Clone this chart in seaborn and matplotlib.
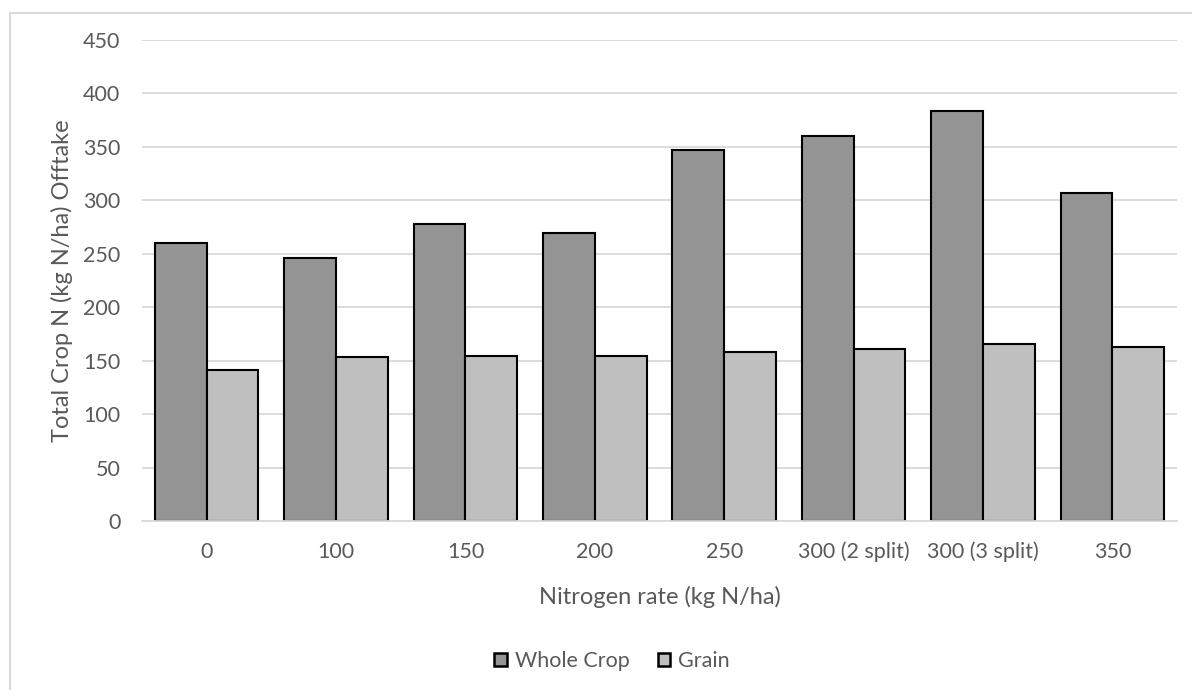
import matplotlib
matplotlib.use("Agg")
import matplotlib.pyplot as plt
import seaborn as sns
import pandas as pd
from matplotlib.patches import Patch
from matplotlib.lines import Line2D

categories = ["0", "100", "150", "200", "250", "300 (2 split)", "300 (3 split)", "350"]
whole_crop = [260, 246, 278, 269, 347, 360, 384, 307]
grain = [141, 153, 154, 154, 158, 161, 166, 163]
series_names = ["Whole Crop", "Grain"]
series_colors = ["#949494", "#bfbfbf"]
y_ticks = [0, 50, 100, 150, 200, 250, 300, 350, 400, 450]

df = pd.DataFrame({
    "rate": categories * 2,
    "value": whole_crop + grain,
    "series": [series_names[0]] * len(categories) + [series_names[1]] * len(categories),
})

sns.set_theme(style="white")
plt.rcParams['font.family'] = ['Lato', 'DejaVu Sans']
text_color = "#595959"
grid_color = "#d9d9d9"

W, H = 1192, 690
fig = plt.figure(figsize=(W / 100, H / 100), dpi=100)
ax_left, ax_right, ax_top, ax_bottom = 142, 1177, 40, 521
ax = fig.add_axes([ax_left / W, 1 - ax_bottom / H, (ax_right - ax_left) / W, (ax_bottom - ax_top) / H])

sns.barplot(data=df, x="rate", y="value", hue="series", order=categories,
            hue_order=series_names, palette=series_colors, width=0.8,
            edgecolor="black", linewidth=1.5, saturation=1, ax=ax, legend=False)

ax.set_ylim(0, 450)
ax.set_xlim(-0.5, len(categories) - 0.5)
ax.set_yticks(y_ticks)
ax.set_yticklabels([str(t) for t in y_ticks])
ax.yaxis.grid(True, color=grid_color, linewidth=1.3)
ax.set_axisbelow(True)
for s in ["top", "right", "left"]:
    ax.spines[s].set_visible(False)
ax.spines["bottom"].set_color(grid_color)
ax.spines["bottom"].set_linewidth(1.3)
ax.tick_params(axis="both", length=0, labelsize=15.5, colors=text_color)
ax.tick_params(axis="y", pad=15.5)
ax.tick_params(axis="x", pad=15)
ax.set_xlabel("Nitrogen rate (kg N/ha)", fontsize=17, color=text_color, va="center")
ax.set_ylabel("Total Crop N (kg N/ha) Offtake", fontsize=17, color=text_color, va="center")
ax.xaxis.set_label_coords(0.5, (ax_bottom - 597) / (ax_bottom - ax_top))
ax.yaxis.set_label_coords((62 - ax_left) / (ax_right - ax_left), 0.5)

handles = [Patch(facecolor=c, edgecolor="black", linewidth=1.8) for c in series_colors]
fig.legend(handles, series_names, loc="center", bbox_to_anchor=(612 / W, 1 - 661 / H),
           ncol=2, frameon=False, fontsize=15.5, labelcolor=text_color,
           handlelength=0.6, handleheight=0.6, handletextpad=0.35, columnspacing=1.3)

# chart-area border (top and left visible)
fig.add_artist(Line2D([10 / W, 10 / W], [0, 1 - 13 / H], transform=fig.transFigure,
                      color=grid_color, linewidth=1.5))
fig.add_artist(Line2D([10 / W, 1], [1 - 13 / H, 1 - 13 / H], transform=fig.transFigure,
                      color=grid_color, linewidth=1.5))

fig.savefig("out.png", dpi=100)
